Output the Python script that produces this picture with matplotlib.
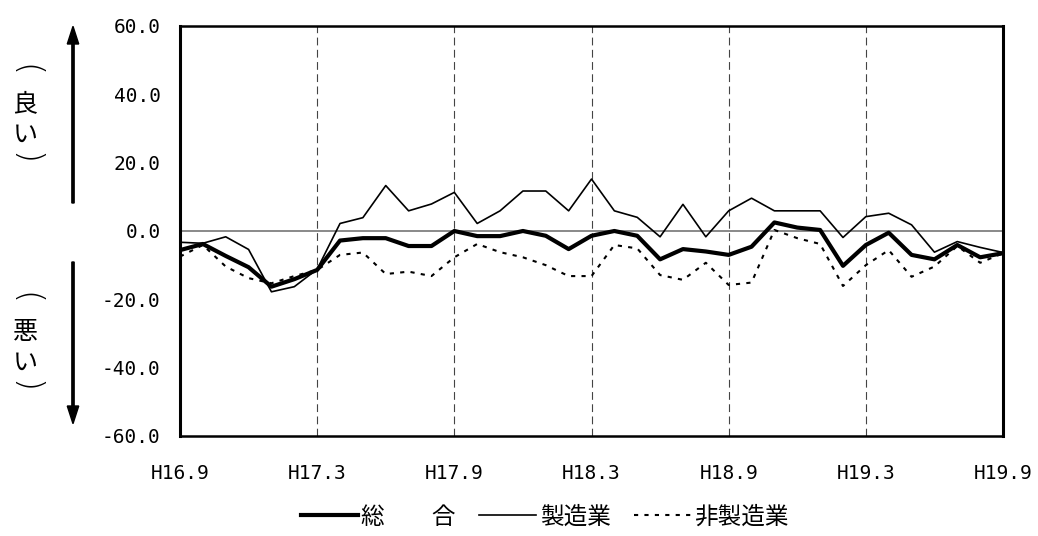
import matplotlib.pyplot as plt
from matplotlib.patches import FancyArrow

plt.rcParams['font.family'] = ['Noto Sans CJK JP', 'DejaVu Sans']

# months H16.9 .. H19.9 (37 points)
tick_labels = ['H16.9', 'H17.3', 'H17.9', 'H18.3', 'H18.9', 'H19.3', 'H19.9']

total = [-5.6, -3.8, -7.3, -10.6, -16.3, -14.1, -11.4, -2.8, -2.1, -2.1, -4.4, -4.4, 0.0,
         -1.5, -1.5, 0.0, -1.4, -5.3, -1.4, 0.0, -1.4, -8.3, -5.3, -6.0, -7.0,
         -4.6, 2.5, 1.0, 0.3, -10.2, -4.1, -0.5, -7.0, -8.3, -4.1, -7.7, -6.5]
manuf = [-3.3, -3.6, -1.7, -5.4, -17.8, -16.3, -11.2, 2.2, 3.9, 13.3, 5.9, 7.9, 11.3,
         2.2, 5.9, 11.7, 11.7, 5.9, 15.2, 5.9, 4.0, -1.7, 7.8, -1.7, 5.9,
         9.6, 5.9, 5.9, 5.9, -1.9, 4.2, 5.2, 1.8, -6.2, -3.1, -4.8, -6.3]
nonmanuf = [-7.5, -4.1, -10.4, -13.8, -15.3, -13.2, -11.4, -7.0, -6.3, -12.6, -11.9, -13.2, -7.7,
            -3.8, -6.2, -7.7, -10.0, -13.2, -13.2, -4.1, -5.1, -12.9, -14.3, -9.3, -15.8,
            -15.1, 0.3, -2.1, -3.8, -16.1, -10.0, -5.6, -13.4, -10.4, -4.4, -9.3, -6.5]

x = list(range(len(total)))

fig = plt.figure(figsize=(10.38, 5.36), dpi=100)
ax = fig.add_axes([0.1734, 0.1866, 0.7929, 0.7649])

# vertical dashed grid lines and zero line
for t in range(6, 36, 6):
    ax.axvline(t, color='#444444', linestyle=(0, (7, 4)), linewidth=0.8, zorder=1)
ax.axhline(0, color='#808080', linewidth=1.3, zorder=1)

ax.plot(x, total, color='black', linewidth=3, label='総　　合', zorder=4)
ax.plot(x, manuf, color='black', linewidth=1.2, label='製造業', zorder=3)
ax.plot(x, nonmanuf, color='black', linewidth=1.5, linestyle=(0, (2, 3)), label='非製造業', zorder=2)

ax.set_xlim(0, 36)
ax.set_ylim(-60, 60)
ax.set_xticks(range(0, 37, 6))
ax.set_xticklabels(tick_labels, family=['DejaVu Sans Mono'])
ax.set_yticks([-60, -40, -20, 0, 20, 40, 60])
ax.set_yticklabels(['%.1f' % v for v in [-60, -40, -20, 0, 20, 40, 60]], family=['DejaVu Sans Mono'])
ax.tick_params(axis='both', length=0, labelsize=14)
ax.tick_params(axis='x', pad=20)
ax.tick_params(axis='y', pad=14)
for s in ['left', 'right']:
    ax.spines[s].set_linewidth(2.2)
for s in ['top', 'bottom']:
    ax.spines[s].set_linewidth(1.8)

# side arrows
fig.patches.append(FancyArrow(
    73 / 1038, 1 - 203 / 536, 0, (203 - 44) / 536, width=0.0022, head_width=0.011,
    head_length=0.033, color='black', transform=fig.transFigure))
fig.patches.append(FancyArrow(
    73 / 1038, 1 - 262 / 536, 0, -(406 - 262) / 536, width=0.0022, head_width=0.011,
    head_length=0.033, color='black', transform=fig.transFigure))

# vertical labels: (良い) and (悪い)
def vlabel(word, y0):
    xc = 25 / 1038
    fig.text(xc, 1 - y0 / 536, '(', rotation=-90, ha='center', va='center', fontsize=24,
             family=['DejaVu Sans'], fontweight='light')
    fig.text(xc, 1 - (y0 + 34) / 536, word, ha='center', va='center', fontsize=18)
    fig.text(xc, 1 - (y0 + 65) / 536, 'い', ha='center', va='center', fontsize=18)
    fig.text(xc, 1 - (y0 + 89) / 536, ')', rotation=-90, ha='center', va='center', fontsize=24,
             family=['DejaVu Sans'], fontweight='light')

vlabel('良', 70)
vlabel('悪', 298)

fig.legend(loc='center', bbox_to_anchor=(0.525, 1 - 517 / 536), ncol=3, frameon=False,
           fontsize=17, handlelength=2.4, handletextpad=0.15, columnspacing=1.0,
           borderpad=0)

fig.savefig('out.png', dpi=100)
